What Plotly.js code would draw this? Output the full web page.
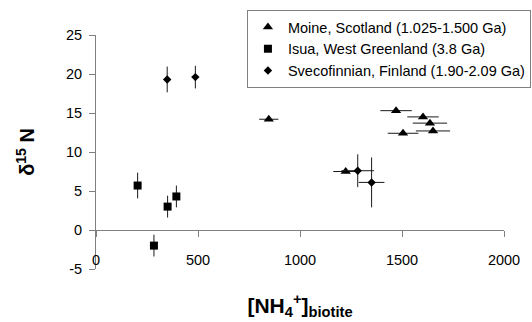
<!DOCTYPE html>
<html>
<head>
<meta charset="utf-8">
<script src="https://cdn.plot.ly/plotly-3.0.1.min.js"></script>
<style>html,body{margin:0;padding:0;background:#fff;}#chart{width:532px;height:322px;}</style>
</head>
<body>
<div id="chart"></div>
<script>
// Moine, Scotland (triangles)
const moineX = [847, 1471, 1603, 1637, 1652, 1505, 1224];
const moineY = [14.2, 15.3, 14.5, 13.7, 12.7, 12.4, 7.5];
const moineXErr = [47, 77, 77, 84, 84, 75, 61];

// Isua, West Greenland (squares)
const isuaX = [204, 351, 394, 284];
const isuaY = [5.7, 3.0, 4.3, -2.0];
const isuaYErr = [1.65, 1.4, 1.4, 1.4];

// Svecofinnian, Finland (diamonds)
const svecoX = [349, 487, 1283, 1351];
const svecoY = [19.3, 19.6, 7.6, 6.1];
const svecoXErr = [0, 0, 80, 63];
const svecoYErr = [1.65, 1.45, 2.1, 3.2];

const seriesNames = [
  'Moine, Scotland (1.025-1.500 Ga)',
  'Isua, West Greenland (3.8 Ga)',
  'Svecofinnian, Finland (1.90-2.09 Ga)'
];
const xTickVals = [0, 500, 1000, 1500, 2000];
const yTickVals = [-5, 0, 5, 10, 15, 20, 25];

const FONT = 'Liberation Sans, Arial, sans-serif';
const errStyle = {thickness: 1, width: 0, color: '#1a1a1a'};

const traces = [
  {
    x: moineX, y: moineY, name: seriesNames[0], type: 'scatter', mode: 'markers',
    marker: {symbol: 'triangle-up', size: 9, color: '#000'},
    error_x: Object.assign({type: 'data', array: moineXErr, visible: true}, errStyle)
  },
  {
    x: isuaX, y: isuaY, name: seriesNames[1], type: 'scatter', mode: 'markers',
    marker: {symbol: 'square', size: 8, color: '#000'},
    error_y: Object.assign({type: 'data', array: isuaYErr, visible: true}, errStyle)
  },
  {
    x: svecoX, y: svecoY, name: seriesNames[2], type: 'scatter', mode: 'markers',
    marker: {symbol: 'diamond', size: 6.5, color: '#000'},
    error_x: Object.assign({type: 'data', array: svecoXErr, visible: true}, errStyle),
    error_y: Object.assign({type: 'data', array: svecoYErr, visible: true}, errStyle)
  }
];

const layout = {
  width: 532, height: 322,
  margin: {l: 96, r: 28, t: 35, b: 53, pad: 0, autoexpand: false},
  paper_bgcolor: '#fff', plot_bgcolor: '#fff',
  font: {family: FONT, size: 14.5, color: '#000'},
  showlegend: true,
  legend: {
    x: 1.066, xanchor: 'right', y: 1.107, yanchor: 'top',
    bordercolor: '#808080', borderwidth: 1, bgcolor: '#fff',
    font: {family: FONT, size: 14.5, color: '#000'},
    itemwidth: 30, tracegroupgap: 0
  },
  xaxis: {
    range: [0, 2000], tickvals: xTickVals, ticktext: xTickVals.map(String),
    anchor: 'free', position: 5 / 30,
    showline: true, linecolor: '#808080', linewidth: 1,
    ticks: 'outside', ticklen: 6, tickcolor: '#808080', tickwidth: 1,
    showgrid: false, zeroline: false,
    ticklabelstandoff: 11,
    tickfont: {family: FONT, size: 14.5, color: '#000'},
    title: {
      text: '<b>[NH<sub>4</sub><sup>+</sup>]<sub>biotite</sub></b>',
      font: {family: FONT, size: 21, color: '#000'},
      standoff: 30
    },
    fixedrange: true
  },
  yaxis: {
    range: [-5, 25], tickvals: yTickVals, ticktext: yTickVals.map(String),
    showline: true, linecolor: '#808080', linewidth: 1,
    ticks: 'outside', ticklen: 6, tickcolor: '#808080', tickwidth: 1,
    showgrid: false, zeroline: false,
    ticklabelstandoff: 4,
    tickfont: {family: FONT, size: 14.5, color: '#000'},
    title: {
      text: '<b>δ<sup>15</sup> N</b>',
      font: {family: FONT, size: 20, color: '#000'},
      standoff: 25
    },
    fixedrange: true
  }
};

Plotly.newPlot('chart', traces, layout, {displayModeBar: false, staticPlot: true});
</script>
</body>
</html>
